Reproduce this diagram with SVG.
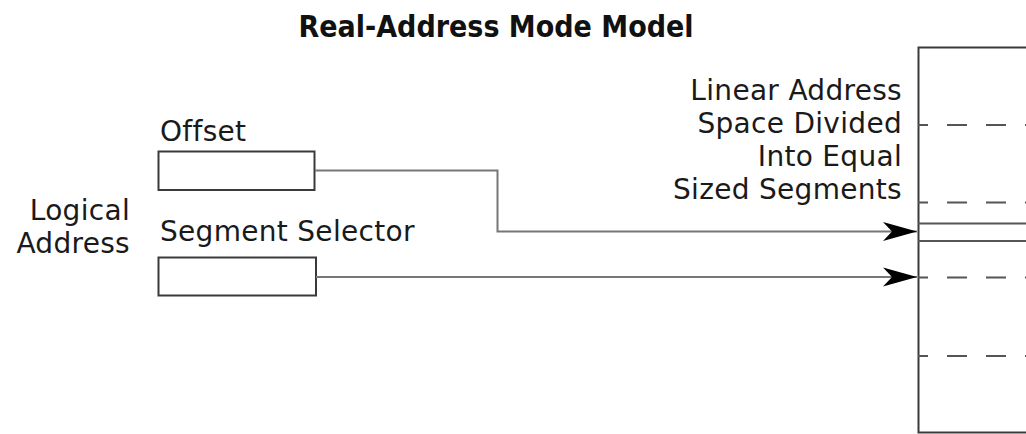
<svg xmlns="http://www.w3.org/2000/svg" width="1026" height="434" viewBox="0 0 1026 434">
  <style>
    .lbl { font-family: "DejaVu Sans", sans-serif; font-size: 28px; letter-spacing: 0.3px; fill: #1a1a1a; }
    .ttl { font-family: "DejaVu Sans Condensed", "DejaVu Sans", sans-serif; font-weight: bold; font-size: 30px; fill: #111; }
    .reg { fill: #fff; stroke: #3a3a3a; stroke-width: 2; }
    .wire { fill: none; stroke: #777; stroke-width: 2; }
    .div { stroke: #555; stroke-width: 2; }
    .dash { stroke: #555; stroke-width: 2; stroke-dasharray: 20 19; stroke-dashoffset: 10; }
  </style>
  <defs>
    <marker id="head" markerUnits="userSpaceOnUse" viewBox="0 0 34 20" refX="34" refY="10" markerWidth="34" markerHeight="20" orient="auto">
      <path d="M0,0.5 L34,10 L0,19.5 L9,10 Z" fill="#000"/>
    </marker>
  </defs>
  <rect width="1026" height="434" fill="#fff"/>

  <text class="ttl" x="496" y="37" text-anchor="middle">Real-Address Mode Model</text>

  <g id="logical-address">
    <text class="lbl" x="130" y="220" text-anchor="end">Logical</text>
    <text class="lbl" x="130" y="253" text-anchor="end">Address</text>
  </g>

  <g id="offset">
    <text class="lbl" x="160" y="141">Offset</text>
    <rect class="reg" x="158.5" y="151.5" width="156" height="38.5"/>
  </g>

  <g id="segment-selector">
    <text class="lbl" x="160" y="241">Segment Selector</text>
    <rect class="reg" x="158.5" y="257.5" width="157.5" height="38"/>
  </g>

  <g id="linear-address-space">
    <rect class="reg" x="918.5" y="47.5" width="120" height="385"/>
    <line class="dash" x1="918" y1="125" x2="1026" y2="125"/>
    <line class="dash" x1="918" y1="202.5" x2="1026" y2="202.5"/>
    <line class="div" x1="918" y1="223.5" x2="1026" y2="223.5"/>
    <line class="div" x1="918" y1="241" x2="1026" y2="241"/>
    <line class="dash" x1="918" y1="277.5" x2="1026" y2="277.5"/>
    <line class="dash" x1="918" y1="356" x2="1026" y2="356"/>
    <text class="lbl" x="902" y="100" text-anchor="end">Linear Address</text>
    <text class="lbl" x="902" y="133" text-anchor="end">Space Divided</text>
    <text class="lbl" x="902" y="166" text-anchor="end">Into Equal</text>
    <text class="lbl" x="902" y="199" text-anchor="end">Sized Segments</text>
  </g>

  <g id="connectors">
    <polyline class="wire" points="315,170.5 497.5,170.5 497.5,231.5 917,231.5" marker-end="url(#head)"/>
    <line class="wire" x1="316" y1="277" x2="917" y2="277" marker-end="url(#head)"/>
  </g>
</svg>
